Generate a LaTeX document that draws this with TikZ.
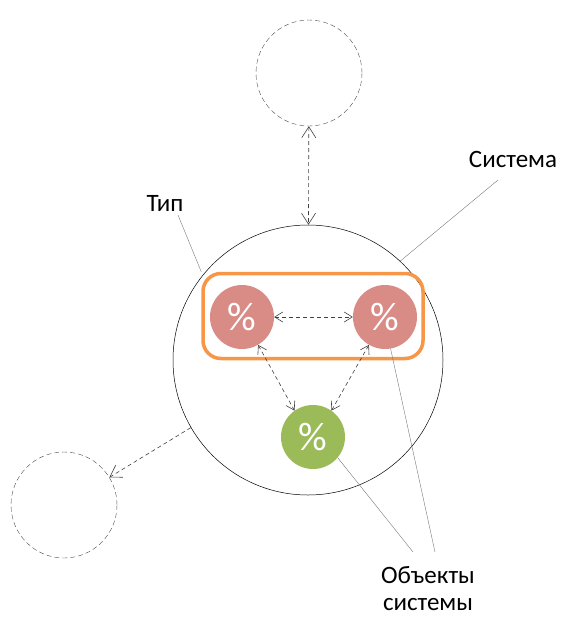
\documentclass[tikz,border=0pt]{standalone}
\usepackage{fontspec}
\setmainfont{Carlito}
\usetikzlibrary{arrows.meta}
\definecolor{pinkc}{RGB}{217,140,134}
\definecolor{greenc}{RGB}{155,187,89}
\definecolor{orangec}{RGB}{247,150,70}
\definecolor{leadc}{RGB}{120,120,120}
\begin{document}
\begin{tikzpicture}[x=1pt,y=-1pt,
  ghost/.style={circle,draw=black!70,dashed,dash pattern=on 5pt off 3pt,minimum size=106pt,inner sep=0pt},
  obj/.style={circle,fill=#1,minimum size=64pt,inner sep=0pt,text=white,font=\fontsize{40}{40}\selectfont},
  link/.style={dashed,dash pattern=on 4pt off 3pt,black!75,line width=0.6pt},
  bighead/.tip={Straight Barb[length=11pt,width=14pt]},
  smallhead/.tip={Straight Barb[length=8pt,width=10pt]},
  lead/.style={leadc,thin},
  lbl/.style={font=\fontsize{25}{27}\selectfont,inner sep=0pt}]
\useasboundingbox (0,0) rectangle (566,619);
% system
\node[circle,draw=black,line width=0.5pt,minimum size=270pt,inner sep=0pt] (sys) at (308,360) {};
\node[ghost] (top) at (309,73) {};
\node[ghost] (left) at (64,505) {};
% type box
\node[draw=orangec,line width=3.5pt,rounded corners=18pt,minimum width=220pt,minimum height=85pt] (type) at (313,316) {};
% objects
\node[obj=pinkc] (p1) at (242,317) {\%};
\node[obj=pinkc] (p2) at (385,317) {\%};
\node[obj=greenc] (g) at (313,437) {\%};
% connectors
\draw[link,{bighead}-{bighead}] (top) -- (sys);
\draw[link,-{bighead}] (sys.210) -- (left);
\draw[link,{smallhead}-{smallhead}] (p1) -- (p2);
\draw[link,{smallhead}-{smallhead}] (p1.300) -- (g.125);
\draw[link,{smallhead}-{smallhead}] (p2.240) -- (g.55);
% labels
\node[lbl] (lsys) at (513,159) {Система};
\node[lbl] (ltype) at (165,203) {Тип};
\node[lbl,align=center] (lobj) at (428,589) {Объекты\\системы};
\coordinate (c1) at (498,180);
\coordinate (c2) at (178,215);
\coordinate (c3) at (413,552);
\coordinate (c4) at (435,552);
\draw[lead] (c1) -- (sys.47);
\draw[lead] (c2) -- (type.north west);
\draw[lead] (c3) -- (g.-40);
\draw[lead] (c4) -- (p2.-80);
\end{tikzpicture}
\end{document}
